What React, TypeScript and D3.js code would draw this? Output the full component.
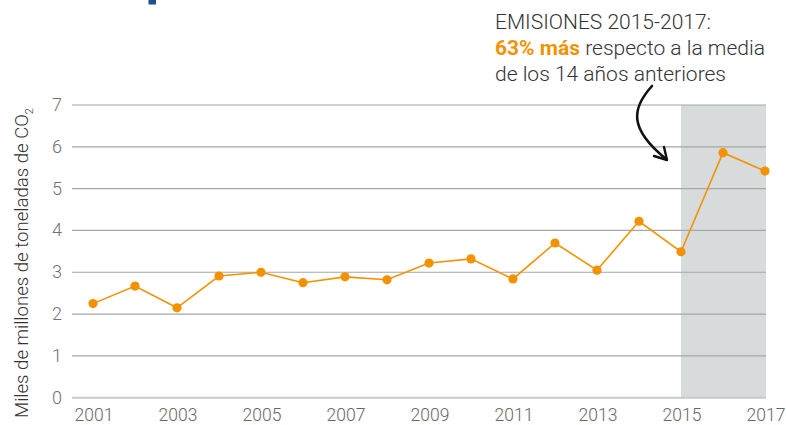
import React from "react";
import * as d3 from "d3";

const years = [2001, 2002, 2003, 2004, 2005, 2006, 2007, 2008, 2009, 2010, 2011, 2012, 2013, 2014, 2015, 2016, 2017];
const emissions = [2.25, 2.67, 2.15, 2.91, 3.0, 2.75, 2.89, 2.82, 3.22, 3.32, 2.84, 3.7, 3.05, 4.22, 3.49, 5.86, 5.42];
const yTicks = [0, 1, 2, 3, 4, 5, 6, 7];
const xTicks = [2001, 2003, 2005, 2007, 2009, 2011, 2013, 2015, 2017];
const highlightRange = [2015, 2017];

const W = 786;
const H = 425;
const ORANGE = "#f39200";

export default function App() {
  const x = d3.scaleLinear().domain([2001, 2017]).range([93, 765]);
  const y = d3.scaleLinear().domain([0, 7]).range([397.7, 105]);
  const line = d3
    .line<number>()
    .x((_, i) => x(years[i]))
    .y((d) => y(d));
  const gridX0 = 72;
  const gridX1 = 766;
  const font = "Roboto, 'Noto Sans', sans-serif";

  return (
    <svg
      width={W}
      height={H}
      style={{ position: "absolute", left: 0, top: 0, background: "#fff" }}
      fontFamily={font}
    >
      <rect x={148.5} y={0} width={7.5} height={4.5} fill="#1f4e8c" />
      {/* highlighted period */}
      <rect
        x={x(highlightRange[0])}
        y={y(7)}
        width={gridX1 - x(highlightRange[0])}
        height={y(0) - y(7)}
        fill="#d8dbdc"
      />
      {/* gridlines */}
      {yTicks.map((t) => (
        <line
          key={t}
          x1={gridX0}
          x2={gridX1}
          y1={y(t)}
          y2={y(t)}
          stroke={t === 0 ? "#c8c8c8" : "#a6a6a6"}
          strokeWidth={t === 0 ? 2 : 1.2}
        />
      ))}
      {/* y tick labels */}
      {yTicks.map((t) => (
        <text
          key={t}
          x={57}
          y={y(t) + 6}
          textAnchor="middle"
          fontSize={18}
          fontWeight={300}
          fill="#707070"
        >
          {t}
        </text>
      ))}
      {/* x tick labels */}
      {xTicks.map((t) => (
        <text
          key={t}
          x={x(t) + 1}
          y={421}
          textAnchor="middle"
          fontSize={17.5}
          fontWeight={300}
          fill="#666"
        >
          {t}
        </text>
      ))}
      {/* y axis title */}
      <text
        transform={`translate(27.5, 263) rotate(-90)`}
        textAnchor="middle"
        fontSize={18.6}
        fontWeight={300}
        fill="#333"
      >
        Miles de millones de toneladas de CO
        <tspan fontSize={11} dy={5}>
          2
        </tspan>
      </text>
      {/* series */}
      <path d={line(emissions) || ""} fill="none" stroke={ORANGE} strokeWidth={1.6} />
      {emissions.map((v, i) => (
        <circle key={i} cx={x(years[i])} cy={y(v)} r={4.6} fill={ORANGE} />
      ))}
      {/* annotation */}
      <g fontSize={21} fontWeight={300} fill="#333">
        <text x={495} y={28.5}>EMISIONES 2015-2017:</text>
        <text x={495} y={55}>
          <tspan fill={ORANGE} fontWeight={700}>63% más</tspan> respecto a la media
        </text>
        <text x={495} y={80.5}>de los 14 años anteriores</text>
      </g>
      <path
        d="M652,86 C632,108 628,128 666,159"
        fill="none"
        stroke="#111"
        strokeWidth={2.6}
        strokeLinecap="round"
      />
      <path
        d="M654,156 L667,160 L664,147"
        fill="none"
        stroke="#111"
        strokeWidth={2.4}
        strokeLinecap="round"
        strokeLinejoin="round"
      />
    </svg>
  );
}
